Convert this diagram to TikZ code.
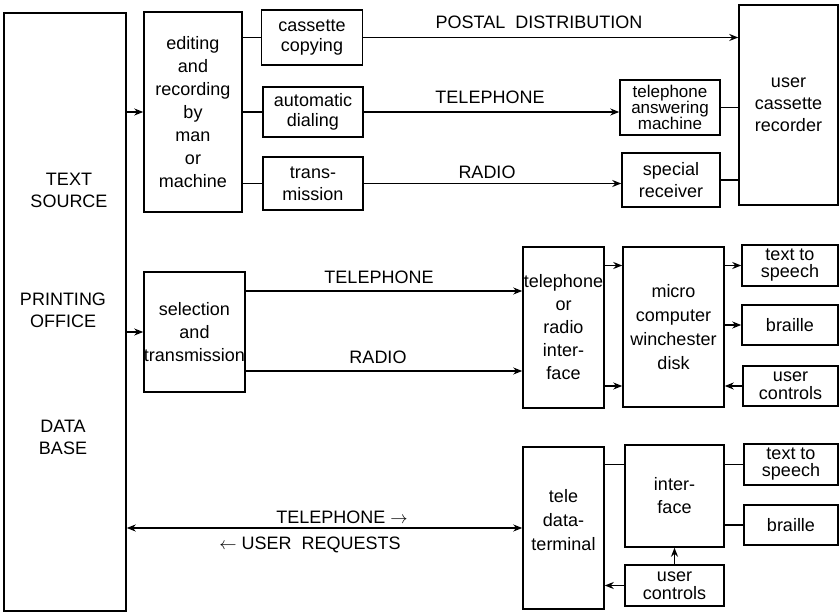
\documentclass[tikz,border=0pt]{standalone}
\usepackage{fontspec}
\setmainfont{Liberation Sans}
\usepackage{tikz}
\usetikzlibrary{arrows.meta,positioning}

\begin{document}
\begin{tikzpicture}[x=1pt, y=-1pt,
    box/.style={draw, line width=1.5pt, align=center, inner sep=0pt, font=\fontsize{18}{23}\selectfont},
    lbl/.style={align=center, inner sep=0pt, font=\fontsize{18}{22}\selectfont},
    link/.style={line width=1.5pt},
    arr/.style={line width=1.5pt, -{Stealth[length=9pt,width=7pt]}},
    both/.style={line width=1.5pt, {Stealth[length=9pt,width=7pt]}-{Stealth[length=9pt,width=7pt]}}]
    \useasboundingbox (0,0) rectangle (839,612);

    % source block
    \node[box, minimum width=122pt, minimum height=598pt] (src) at (65,312) {};
    \node[lbl] (txtsrc) at (69,190) {TEXT\\SOURCE};
    \node[lbl] (prtoff) at (63,310) {PRINTING\\OFFICE};
    \node[lbl] (datab) at (63,437) {DATA\\BASE};

    % cassette branch
    \node[box, minimum width=98pt, minimum height=200pt] (edit) at (193,112) {editing\\and\\recording\\by\\man\\or\\machine};
    \node[box, minimum width=101pt, minimum height=55pt, font=\fontsize{18}{20}\selectfont] (copy) at (312,37.5) {cassette\\copying};
    \node[box, minimum width=100pt, minimum height=50pt, font=\fontsize{18}{20}\selectfont] (dial) at (313,112) {automatic\\dialing};
    \node[box, minimum width=100pt, minimum height=53pt, font=\fontsize{18}{22}\selectfont] (trans) at (313,183.5) {trans-\\mission};
    \node[box, minimum width=100pt, minimum height=55pt, font=\fontsize{17}{16}\selectfont] (answ) at (670,107.5) {telephone\\answering\\machine};
    \node[box, minimum width=98pt, minimum height=54pt, font=\fontsize{18}{22}\selectfont] (recv) at (671,180) {special\\receiver};
    \node[box, minimum width=99pt, minimum height=200pt, font=\fontsize{18}{22}\selectfont] (ucr) at (788.5,105) {user\\cassette\\recorder};

    \draw[arr] (src.east |- edit) -- (edit.west);
    \draw[link] (edit.east |- copy) -- (copy.west);
    \draw[link] (edit.east |- dial) -- (dial.west);
    \draw[link] (edit.east |- trans) -- (trans.west);
    \draw[arr] (copy.east) -- (ucr.west |- copy);
    \draw[arr] (dial.east) -- (answ.west |- dial);
    \draw[arr] (trans.east) -- (recv.west |- trans);
    \draw[link] (answ.east) -- (ucr.west |- answ);
    \draw[link] (recv.east) -- (ucr.west |- recv);
    \node[lbl] (lpost) at (539,22) {POSTAL \ DISTRIBUTION};
    \node[lbl] (ltel1) at (490,97) {TELEPHONE};
    \node[lbl] (lrad1) at (487,172) {RADIO};

    % computer branch
    \node[box, minimum width=101pt, minimum height=120pt, font=\fontsize{18}{23}\selectfont] (sel) at (194.5,332) {selection\\and\\transmission};
    \node[box, minimum width=81pt, minimum height=161pt] (tri) at (563.5,327.5) {telephone\\or\\radio\\inter-\\face};
    \node[box, minimum width=101pt, minimum height=160pt, font=\fontsize{18}{24}\selectfont] (micro) at (673.5,327) {micro\\computer\\winchester\\disk};
    \node[box, minimum width=96pt, minimum height=41pt, font=\fontsize{18}{17}\selectfont] (tts1) at (790,265.5) {text to\\speech};
    \node[box, minimum width=96pt, minimum height=40pt] (br1) at (790,325) {braille};
    \node[box, minimum width=95pt, minimum height=40pt, font=\fontsize{18}{18}\selectfont] (uc1) at (790.5,386) {user\\controls};

    \coordinate (selT) at ([yshift=41pt]sel.east);
    \coordinate (selR) at ([yshift=-39pt]sel.east);
    \draw[arr] (src.east |- sel) -- (sel.west);
    \draw[arr] (selT) -- (selT -| tri.west);
    \draw[arr] (selR) -- (selR -| tri.west);
    \draw[arr] (tri.east |- tts1) -- (micro.west |- tts1);
    \draw[arr] (tri.east |- uc1) -- (micro.west |- uc1);
    \draw[arr] (micro.east |- tts1) -- (tts1.west);
    \draw[arr] (micro.east |- br1) -- (br1.west);
    \draw[arr] (uc1.west) -- (micro.east |- uc1);
    \node[lbl] (ltel2) at (379,277) {TELEPHONE};
    \node[lbl] (lrad2) at (378,357) {RADIO};

    % data terminal branch
    \node[box, minimum width=81pt, minimum height=162pt, font=\fontsize{18}{24}\selectfont] (tdt) at (563.5,528) {tele\\data-\\terminal\\[-8pt]};
    \node[box, minimum width=99pt, minimum height=102pt, font=\fontsize{18}{23}\selectfont] (intf) at (674.5,496) {inter-\\face};
    \node[box, minimum width=94pt, minimum height=41pt, font=\fontsize{18}{17}\selectfont] (tts2) at (791,464.5) {text to\\speech};
    \node[box, minimum width=94pt, minimum height=40pt] (br2) at (791,525) {braille};
    \node[box, minimum width=99pt, minimum height=41pt, font=\fontsize{18}{18}\selectfont] (uc2) at (674.5,585.5) {user\\controls};

    \draw[both] (src.east |- tdt) -- (tdt.west);
    \draw[link] (tdt.east |- tts2) -- (intf.west |- tts2);
    \draw[link] (intf.east |- tts2) -- (tts2.west);
    \draw[link] (intf.east |- br2) -- (br2.west);
    \draw[arr] (uc2.north -| intf) -- (intf.south);
    \draw[arr] (uc2.west) -- (tdt.east |- uc2);
    \node[lbl] (ltel3) at (342,517) {TELEPHONE $\rightarrow$};
    \node[lbl] (lreq) at (310,545) {$\leftarrow$ USER \ REQUESTS};
\end{tikzpicture}
\end{document}
